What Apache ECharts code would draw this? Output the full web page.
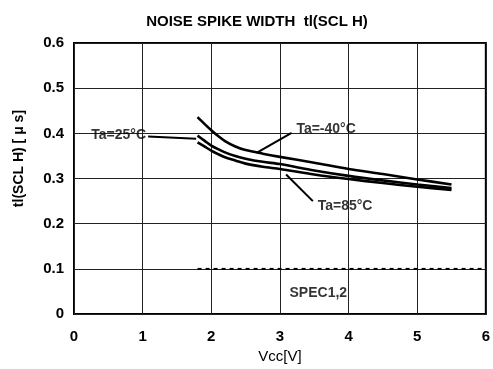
<!DOCTYPE html>
<html><head><meta charset="utf-8">
<script src="https://cdn.jsdelivr.net/npm/echarts@6/dist/echarts.min.js"></script>
<style>html,body{margin:0;padding:0;background:#fff}#c{width:493px;height:369px}</style>
</head><body><div id="c"></div>
<script>
const vcc = [1.8, 1.9, 2.0, 2.1, 2.2, 2.35, 2.5, 2.75, 3.0, 3.5, 4.0, 4.5, 5.0, 5.5];
const tMinus40 = [0.436, 0.421, 0.407, 0.394, 0.383, 0.371, 0.363, 0.355, 0.348, 0.335, 0.321, 0.310, 0.298, 0.287];
const t25 = [0.395, 0.384, 0.373, 0.365, 0.358, 0.350, 0.344, 0.337, 0.332, 0.318, 0.306, 0.296, 0.287, 0.279];
const t85 = [0.380, 0.371, 0.362, 0.354, 0.347, 0.340, 0.333, 0.326, 0.321, 0.309, 0.299, 0.290, 0.282, 0.275];
const specX = [1.8, 6.0];
const specY = [0.1, 0.1];
const xTicks = [0, 1, 2, 3, 4, 5, 6];
const yTicks = [0, 0.1, 0.2, 0.3, 0.4, 0.5, 0.6];
// annotation leaders (data coords) and label anchors
const leader25 = [[1.08, 0.393], [1.78, 0.388]];
const leaderM40 = [[3.17, 0.401], [2.66, 0.357]];
const leader85 = [[3.09, 0.309], [3.48, 0.250]];
const labels = [
  {name: 'Ta=25°C', pos: [1.05, 0.396], align: 'right'},
  {name: 'Ta=-40°C', pos: [3.24, 0.409], align: 'left'},
  {name: 'Ta=85°C', pos: [3.55, 0.240], align: 'left'},
  {name: 'SPEC1,2', pos: [3.14, 0.046], align: 'left'}
];

const pairs = (xs, ys) => xs.map((x, i) => [x, ys[i]]);
const curve = (name, ys) => ({
  name, type: 'line', data: pairs(vcc, ys), smooth: 0.3, showSymbol: false,
  lineStyle: {color: '#000', width: 2.6}, z: 5
});
const leader = (pts) => ({
  type: 'line', data: pts, showSymbol: false, lineStyle: {color: '#000', width: 2}, z: 4
});

const chart = echarts.init(document.getElementById('c'));
chart.setOption({
  animation: false,
  backgroundColor: '#fff',
  textStyle: {fontFamily: 'Liberation Sans'},
  title: {
    text: 'NOISE SPIKE WIDTH  tl(SCL H)', left: 252, top: 9, textAlign: 'center',
    textStyle: {fontFamily: 'Liberation Sans', fontWeight: 'bold', fontSize: 15, color: '#000'}
  },
  grid: {left: 74, right: 7, top: 43, bottom: 54, show: true, borderColor: '#000', borderWidth: 2},
  xAxis: {
    type: 'value', min: xTicks[0], max: xTicks[xTicks.length - 1], interval: 1,
    name: 'Vcc[V]', nameLocation: 'middle', nameGap: 27,
    nameTextStyle: {fontSize: 15, color: '#000', fontFamily: 'Liberation Sans'},
    axisLine: {show: false}, axisTick: {show: false},
    axisLabel: {fontSize: 15, fontWeight: 'bold', color: '#000', margin: 15},
    splitLine: {lineStyle: {color: '#222', width: 1}}
  },
  yAxis: {
    type: 'value', min: yTicks[0], max: yTicks[yTicks.length - 1], interval: 0.1,
    name: 'tl(SCL H) [ μ s]', nameLocation: 'middle', nameGap: 48,
    nameTextStyle: {fontSize: 14, fontWeight: 'bold', color: '#000', fontFamily: 'Liberation Sans',
      padding: [0, 0, 0, 40]},
    axisLine: {show: false}, axisTick: {show: false},
    axisLabel: {fontSize: 15, fontWeight: 'bold', color: '#000', margin: 10,
      formatter: v => (v === 0 ? '0' : v.toFixed(1))},
    splitLine: {lineStyle: {color: '#222', width: 1}}
  },
  series: [
    curve('Ta=-40°C', tMinus40),
    curve('Ta=25°C', t25),
    curve('Ta=85°C', t85),
    {type: 'line', data: pairs(specX, specY), showSymbol: false,
      lineStyle: {color: '#000', width: 2, type: [4, 4]}, z: 3},
    leader(leader25), leader(leaderM40), leader(leader85),
    {type: 'scatter', symbolSize: 0, z: 6,
      data: labels.map(l => ({name: l.name, value: l.pos,
        label: {show: true, position: 'inside', formatter: '{b}', align: l.align,
          verticalAlign: 'middle', color: '#000', fontSize: 14, fontWeight: 'bold',
          fontFamily: 'Liberation Sans'}}))}
  ]
});
</script></body></html>
